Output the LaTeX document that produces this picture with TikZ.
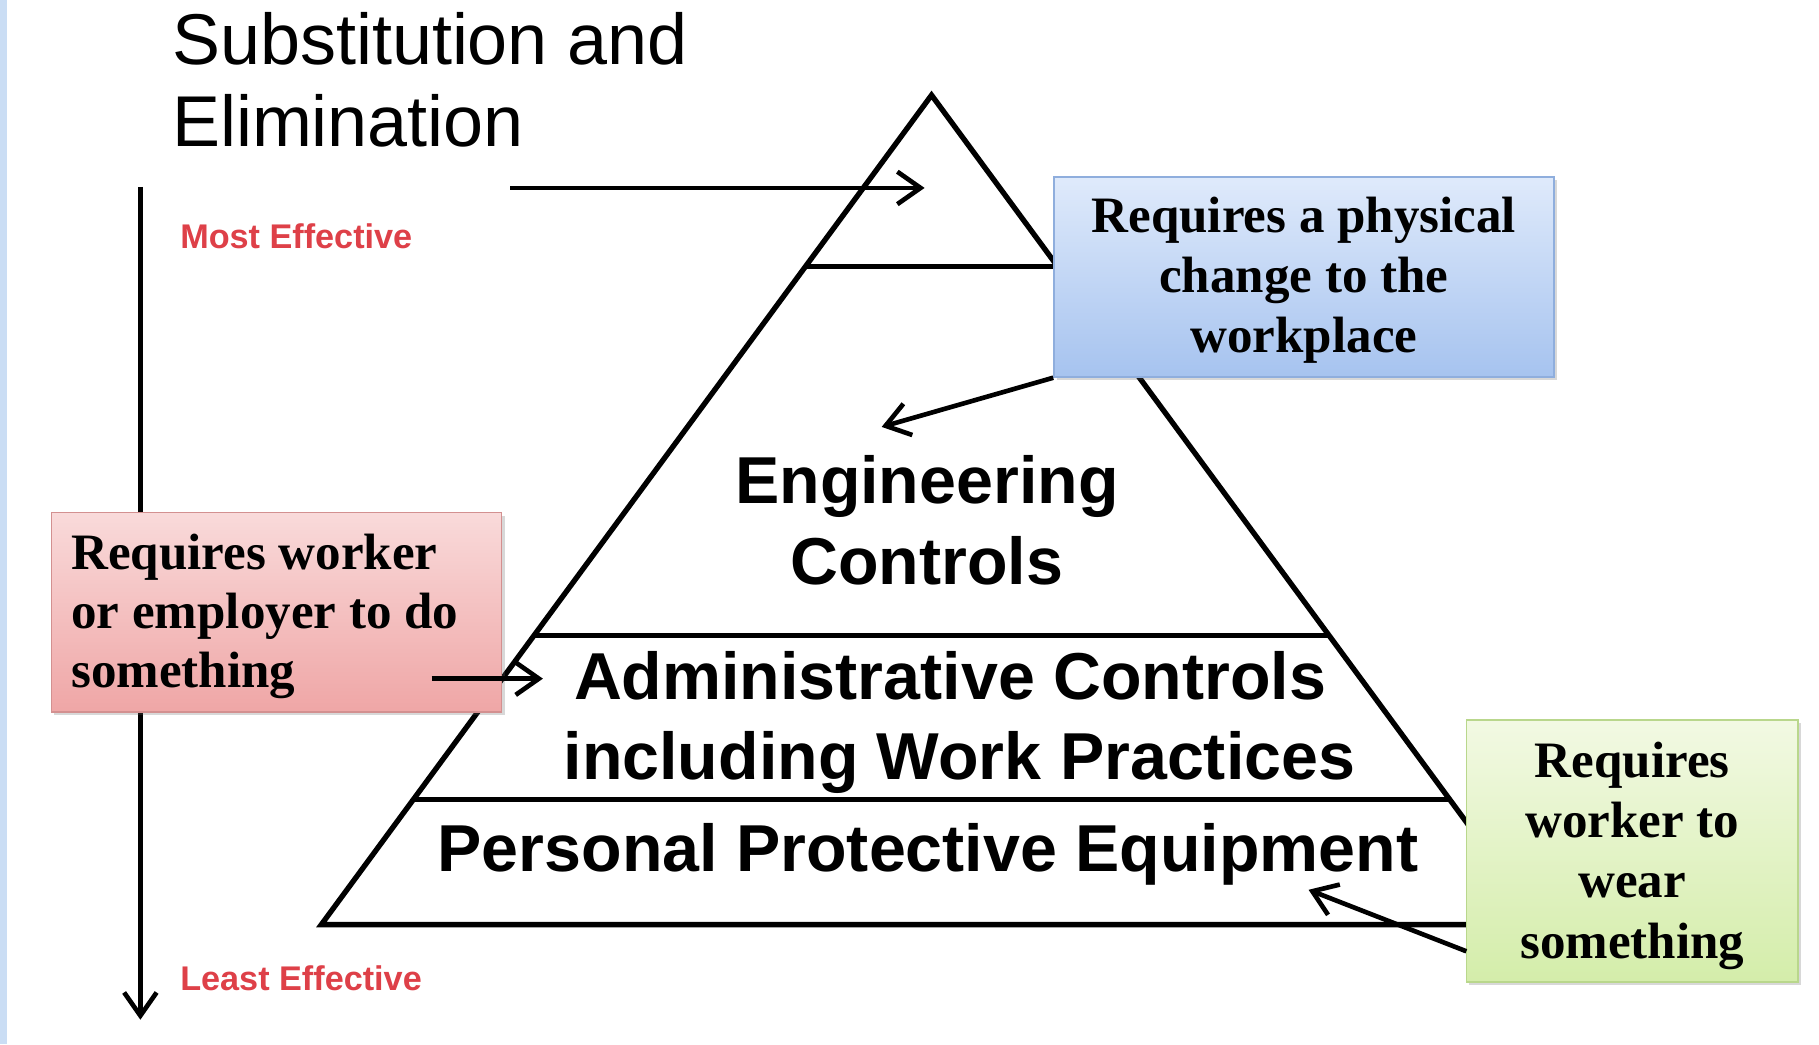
\documentclass[tikz,border=0pt]{standalone}
\usepackage{fontspec}
\setmainfont{Liberation Serif}
\newfontfamily\arialfont{Liberation Sans}
\usetikzlibrary{arrows.meta,shadows,calc}
\definecolor{stripblue}{HTML}{CADDF4}
\definecolor{effred}{HTML}{DE4048}
\definecolor{blueTop}{HTML}{DFEAFB}
\definecolor{blueBot}{HTML}{A6C3EF}
\definecolor{blueLine}{HTML}{8FAEDD}
\definecolor{redTop}{HTML}{F9DADA}
\definecolor{redBot}{HTML}{EFA6A6}
\definecolor{redLine}{HTML}{D39090}
\definecolor{greenTop}{HTML}{F2F9E3}
\definecolor{greenBot}{HTML}{D4EDAA}
\definecolor{greenLine}{HTML}{B9D78C}
\newcommand{\topstrut}[1]{\rule{0pt}{#1}}
\newcommand{\botstrut}{\rule[-7pt]{0pt}{0pt}}
\begin{document}
\begin{tikzpicture}[x=0.5pt,y=-0.5pt,
  pyr/.style={line width=2.3pt, line join=miter},
  conn/.style={line width=2pt, -{Straight Barb[length=10pt,width=14pt]}},
  pyrtext/.style={font=\arialfont\bfseries\fontsize{28.6}{34}\selectfont, inner sep=0pt},
  titletext/.style={font=\arialfont\fontsize{31}{36}\selectfont, inner sep=0pt},
  efftext/.style={font=\arialfont\bfseries\fontsize{14.75}{17}\selectfont, text=effred, inner sep=0pt},
  boxbase/.style={inner sep=0pt, line width=0.6pt,
    drop shadow={shadow xshift=1.2pt, shadow yshift=-1.2pt, opacity=0.25, fill=black!60}},
  bluebox/.style={boxbase, draw=blueLine, top color=blueTop, bottom color=blueBot,
    minimum width=215.5pt, minimum height=86.25pt, align=center,
    font=\bfseries\fontsize{22}{26}\selectfont},
  redbox/.style={boxbase, draw=redLine, top color=redTop, bottom color=redBot,
    inner xsep=8.5pt, text width=177pt, minimum height=85.9pt, align=flush left,
    font=\bfseries\fontsize{22}{25.5}\selectfont},
  greenbox/.style={boxbase, draw=greenLine, top color=greenTop, bottom color=greenBot,
    minimum width=143pt, minimum height=113pt, align=center,
    font=\bfseries\fontsize{22}{26}\selectfont}
]
\useasboundingbox (0,0) rectangle (1568,900);
\fill[white] (0,0) rectangle (1568,900);
\fill[stripblue] (0,0) rectangle (6,900);

% pyramid
\coordinate (apex) at (803,82);
\coordinate (baseL) at (277,797);
\coordinate (baseR) at (1329,797);
\draw[pyr] (apex) -- (baseL) -- (baseR) -- cycle;
\draw[pyr] ($(apex)!0.207!(baseL)$) coordinate (d1L) -- ($(apex)!0.207!(baseR)$) coordinate (d1R);
\draw[pyr] ($(apex)!0.6517!(baseL)$) coordinate (d2L) -- ($(apex)!0.6517!(baseR)$) coordinate (d2R);
\draw[pyr] ($(apex)!0.849!(baseL)$) coordinate (d3L) -- ($(apex)!0.849!(baseR)$) coordinate (d3R);

% effectiveness axis
\coordinate (effTop) at (121,161);
\coordinate (effBot) at (121,879);
\draw[conn] (effTop) -- (effBot);
\node[efftext, anchor=base west] (most) at (155,214) {Most Effective};
\node[efftext, anchor=base west] (least) at (155,854) {Least Effective};

% title
\node[titletext, anchor=base west] (title1) at (148,56) {Substitution and};
\node[titletext, anchor=base west] (title2) at (148,126.5) {Elimination};
\coordinate (subStart) at (440,162);
\coordinate (subEnd) at (797,162);
\draw[conn] (subStart) -- (subEnd);

% pyramid labels
\node[pyrtext, anchor=base] (eng1) at (799,434) {Engineering};
\node[pyrtext, anchor=base] (eng2) at (799,504) {Controls};
\node[pyrtext, anchor=base] (adm1) at (819,603) {Administrative Controls};
\node[pyrtext, anchor=base] (adm2) at (827,672) {including Work Practices};
\node[pyrtext, anchor=base] (ppe) at (800,751) {Personal Protective Equipment};

% boxes
\node[bluebox] (blue) at (1124,238.75) {\topstrut{20.25pt}Requires a physical\\change to the\\workplace\botstrut};
\node[redbox] (red) at (238.5,527.9) {\topstrut{21.1pt}Requires worker\\or employer to do\\something\botstrut};
\node[greenbox] (green) at (1407,733.5) {\topstrut{21.5pt}Requires\\worker to\\wear\\something\botstrut};

% connectors from boxes
\coordinate (engPt) at (760,368);
\draw[conn] (blue.south west) -- (engPt);
\coordinate (redStart) at (372,585);
\coordinate (admPt) at (468,585);
\draw[conn] (redStart) -- (admPt);
\coordinate (greenStart) at (1264,820);
\coordinate (ppePt) at (1128,767);
\draw[conn] (greenStart) -- (ppePt);
\end{tikzpicture}
\end{document}
